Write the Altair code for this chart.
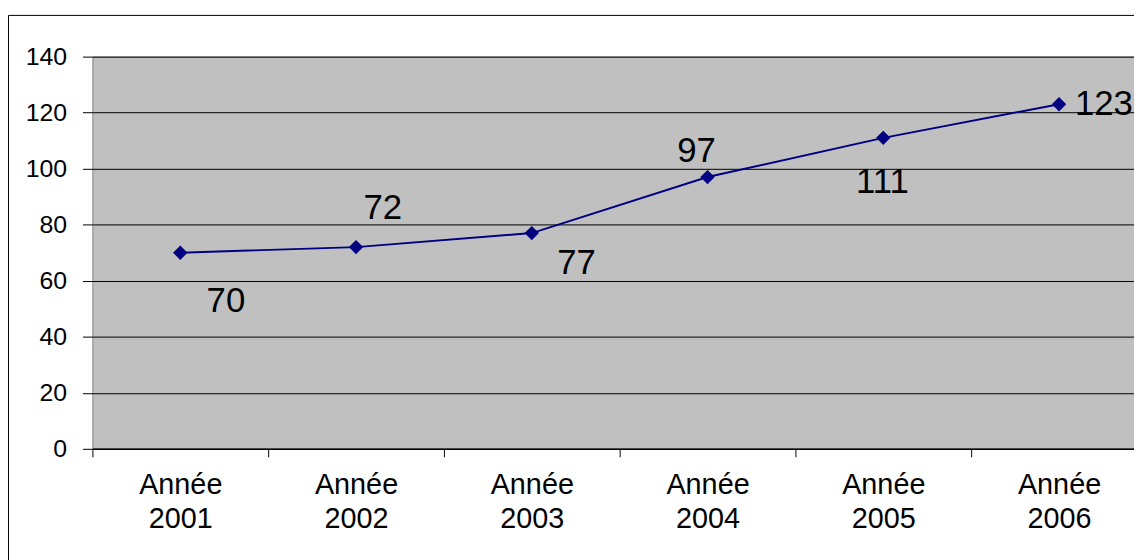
import json
import altair as alt
import pandas as pd

years = ["Année 2001", "Année 2002", "Année 2003", "Année 2004", "Année 2005", "Année 2006"]
values = [70, 72, 77, 97, 111, 123]
y_ticks = [0, 20, 40, 60, 80, 100, 120, 140]

df = pd.DataFrame({"year": years, "value": values})

FONT = "Liberation Sans"
NAVY = "#000080"
W, H = 1049, 395
STEP = 177.0  # pixel width of one category slot; the last slot runs past the cut right edge
x_max = -0.5 + W / STEP

# tick positions: slot boundaries (x.5) carry ticks, slot centres (integers) carry labels
x_vals = sorted([i - 0.5 for i in range(len(years))] + list(range(len(years))))
years_js = json.dumps(years, ensure_ascii=False)

x_enc = alt.X("idx:Q",
              scale=alt.Scale(domain=[-0.5, x_max], nice=False, zero=False),
              axis=alt.Axis(title=None, values=x_vals, labelAngle=0, domainColor="black",
                            domainWidth=1.5, tickColor="black", tickSize=8,
                            tickOpacity={"condition": {"test": "datum.value % 1 == 0", "value": 0}, "value": 1},
                            labelExpr=f"datum.value % 1 == 0 ? split({years_js}[datum.value], ' ') : ''",
                            labelOverlap=False, labelFlush=False, labelBound=False,
                            labelLineHeight=34, labelFontSize=29, labelFont=FONT,
                            labelColor="black", labelPadding=14, grid=False))
y_enc = alt.Y("value:Q",
              scale=alt.Scale(domain=[0, 140], nice=False, zero=True),
              axis=alt.Axis(title=None, values=y_ticks, grid=True, gridColor="black",
                            gridWidth=1, domain=False, tickColor="black", tickSize=10,
                            labelFontSize=25, labelFont=FONT, labelColor="black",
                            labelPadding=16))

base = alt.Chart(df).transform_calculate(idx=f"indexof({years_js}, datum.year)")

line = base.mark_line(color=NAVY, strokeWidth=2).encode(x=x_enc, y=y_enc)
pts = base.mark_point(shape="diamond", filled=True, color=NAVY, size=210, opacity=1).encode(
    x="idx:Q", y="value:Q")

offsets = {
    "Année 2001": (46, 49, "center"),
    "Année 2002": (27, -39, "center"),
    "Année 2003": (45, 30, "center"),
    "Année 2004": (-11, -26, "center"),
    "Année 2005": (-1, 45, "center"),
    "Année 2006": (16, 0, "left"),
}
labels = []
for yr, (dx, dy, al) in offsets.items():
    labels.append(
        base.transform_filter(alt.datum.year == yr)
        .mark_text(dx=dx, dy=dy, align=al, baseline="middle", font=FONT, fontSize=35, color="black")
        .encode(x="idx:Q", y="value:Q", text="value:Q")
    )

border = alt.Chart(pd.DataFrame({"a": [0]})).mark_rect(
    fillOpacity=0, stroke="black", strokeWidth=1
).encode(x=alt.value(-84.5), x2=alt.value(W + 3), y=alt.value(-41.5), y2=alt.value(H + 113))

chart = alt.layer(line, pts, *labels, border).properties(
    width=W, height=H,
    autosize=alt.AutoSizeParams(type="none"),
    padding={"left": 85, "top": 47, "right": 0, "bottom": 110},
    background="white",
).configure_view(fill="#C0C0C0", stroke="#808080", strokeWidth=1)

chart.save("out.html", embed_options={"renderer": "svg", "actions": False})
